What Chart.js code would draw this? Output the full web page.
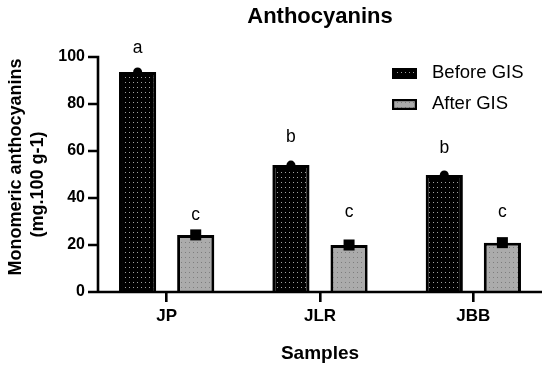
<!DOCTYPE html>
<html><head><meta charset="utf-8">
<script src="https://cdn.jsdelivr.net/npm/chart.js@4"></script>
<style>html,body{margin:0;padding:0;background:#fff}#wrap{width:550px;height:372px}</style>
</head><body><div id="wrap"><canvas id="c" width="550" height="372"></canvas></div>
<script>
const categories = ['JP', 'JLR', 'JBB'];
const seriesNames = ['Before GIS', 'After GIS'];
const beforeGIS = [93.6, 54.0, 49.8];
const afterGIS = [24.3, 20.0, 21.0];
const beforeLetters = ['a', 'b', 'b'];
const afterLetters = ['c', 'c', 'c'];
const beforeLetterAt = [101.7, 63.8, 59.1];
const afterLetterAt = [30.6, 31.9, 31.9];
const yTicks = [0, 20, 40, 60, 80, 100];
const yTitle = ['   Monomeric anthocyanins', '(mg.100 g-1)    '];

const FONT = '"Liberation Sans", Arial, Helvetica, sans-serif';
const canvas = document.getElementById('c');
const ctx = canvas.getContext('2d');

function makePattern(bg, dot) {
  const c = document.createElement('canvas');
  c.width = 4; c.height = 5;
  const x = c.getContext('2d');
  x.fillStyle = bg; x.fillRect(0, 0, 4, 5);
  x.fillStyle = dot; x.fillRect(1, 2, 1, 1);
  return ctx.createPattern(c, 'repeat');
}
const patBefore = makePattern('#000000', '#a0a0a0');
const patAfter = makePattern('#ababab', '#7c7c7c');
const patterns = [patBefore, patAfter];

const overlay = {
  id: 'overlay',
  afterDatasetsDraw(chart) {
    const c = chart.ctx;
    const area = chart.chartArea;
    const ys = chart.scales.y;
    const axisX = area.left + 8;
    const y0 = ys.getPixelForValue(0);
    c.save();
    // markers
    const m0 = chart.getDatasetMeta(0), m1 = chart.getDatasetMeta(1);
    c.fillStyle = '#000';
    m0.data.forEach(b => { c.beginPath(); c.arc(b.x, b.y, 4.5, 0, Math.PI * 2); c.fill(); });
    m1.data.forEach(b => { c.fillRect(b.x - 5.5, b.y - 5.5, 11, 11); });
    // letters
    c.font = '17.5px ' + FONT;
    c.textAlign = 'center';
    c.textBaseline = 'alphabetic';
    m0.data.forEach((b, i) => c.fillText(beforeLetters[i], b.x, ys.getPixelForValue(beforeLetterAt[i])));
    m1.data.forEach((b, i) => c.fillText(afterLetters[i], b.x, ys.getPixelForValue(afterLetterAt[i])));
    // axes
    c.strokeStyle = '#000';
    c.lineWidth = 2.6;
    c.lineCap = 'butt';
    c.beginPath();
    c.moveTo(axisX, ys.getPixelForValue(100) - 1.3);
    c.lineTo(axisX, y0 + 1.3);
    c.moveTo(axisX - 1.3, y0);
    c.lineTo(area.right - 8, y0);
    ys.ticks.forEach(t => {
      const py = ys.getPixelForValue(t.value);
      c.moveTo(axisX - 10, py);
      c.lineTo(axisX, py);
    });
    c.stroke();
    // legend
    const lx = area.right - 158, ly = area.top + 11;
    c.font = '18.5px ' + FONT;
    c.textAlign = 'left';
    c.textBaseline = 'middle';
    seriesNames.forEach((n, i) => {
      const by = ly + i * 31;
      c.fillStyle = patterns[i];
      c.fillRect(lx, by, 25, 11);
      c.lineWidth = 2.2;
      c.strokeStyle = '#000';
      c.strokeRect(lx + 1.1, by + 1.1, 22.8, 8.8);
      c.fillStyle = '#000';
      c.fillText(n, lx + 40, by + 5);
    });
    c.restore();
  }
};

new Chart(canvas, {
  type: 'bar',
  data: {
    labels: categories,
    datasets: [
      { label: seriesNames[0], data: beforeGIS, backgroundColor: patBefore, borderColor: '#000', borderWidth: 3,
        categoryPercentage: 0.758, barPercentage: 0.64 },
      { label: seriesNames[1], data: afterGIS, backgroundColor: patAfter, borderColor: '#000', borderWidth: 3,
        categoryPercentage: 0.758, barPercentage: 0.64 }
    ]
  },
  options: {
    responsive: false,
    animation: false,
    layout: { padding: 0 },
    plugins: {
      legend: { display: false },
      tooltip: { enabled: false },
      title: {
        display: true, text: 'Anthocyanins', color: '#000', fullSize: false,
        font: { family: FONT, size: 22, weight: 'bold' },
        padding: { top: 4, bottom: 26.6 }
      }
    },
    scales: {
      x: {
        offset: true,
        afterFit: s => { s.height = 80; },
        border: { display: false },
        grid: { display: true, drawOnChartArea: false, drawTicks: true, tickLength: 10, offset: false,
                color: '#000', lineWidth: 2.6 },
        ticks: { color: '#000', padding: 4, font: { family: FONT, size: 17, weight: 'bold' } },
        title: { display: true, text: 'Samples', color: '#000', font: { family: FONT, size: 19, weight: 'bold' },
                 padding: { top: 0, bottom: 7 } }
      },
      y: {
        min: 0, max: 100,
        afterFit: s => { s.width = 90; },
        afterBuildTicks: s => { s.ticks = yTicks.map(v => ({ value: v })); },
        border: { display: false },
        grid: { display: false, drawTicks: false, tickLength: 0 },
        ticks: { color: '#000', padding: 5, font: { family: FONT, size: 16, weight: 'bold' } },
        title: { display: true, text: yTitle, color: '#000',
                 font: { family: FONT, size: 18, weight: 'bold', lineHeight: 1.22 },
                 padding: { top: 5, bottom: 0 } }
      }
    }
  },
  plugins: [overlay]
});
</script>
</body></html>
